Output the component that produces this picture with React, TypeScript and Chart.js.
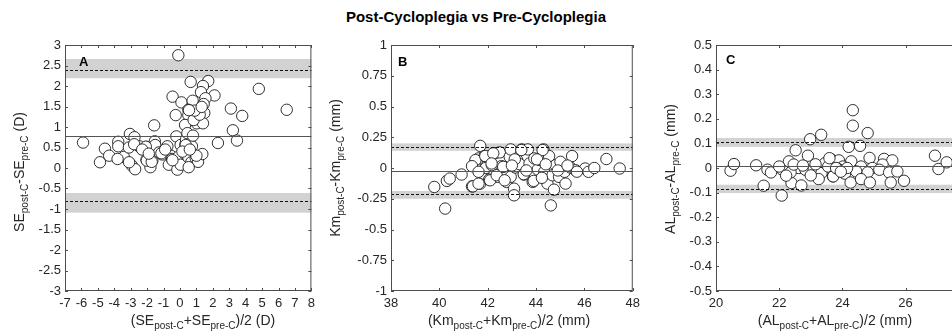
import React, { useEffect, useRef } from "react";
import { Chart, registerables } from "chart.js";
Chart.register(...registerables);

const FONT = "'Liberation Sans', Arial, Helvetica, sans-serif";

// ---------- Panel A: SE ----------
const A_mean = [-0.1, 0.65, 1.72, 1.4, 1.28, 2.1, 1.55, -0.45, 0.09, 0.77, 0.51, 1.44, -0.26, 0.51, 1.48, 1.02, 1.4, 0.31, 0.83, 4.8, 6.5, 3.1, 3.79, 3.22, 3.47, 2.31, -1.57, -5.9, -3.05, -2.77, -3.76, -3.76, -4.57, -4.87, -4.31, -3.42, -3.8, -3.11, -2.49, -2.93, -2.73, -3.1, -2.04, -1.84, -1.53, -1.51, -2.04, -1.8, -1.68, -1.27, -1.07, -0.77, -0.56, -0.68, -0.48, -0.22, -0.16, -0.08, 0.04, 0.04, 0.33, 0.29, 0.37, 0.45, 0.73, 0.79, 0.75, 0.51, 0.69, 0.96, 1.1, 1.36, 0.53, 1.0, -2.79, -2.08, -1.13, -0.46, 0.35, -2.02, -1.72, -2.3, -1.9, -0.9, 0.15, 0.6, 1.2, 0.9, 1.32, 0.55];
const A_diff = [2.75, 2.1, 2.12, 2.0, 1.85, 1.77, 1.7, 1.74, 1.6, 1.64, 1.42, 1.56, 1.29, 1.29, 1.34, 1.09, 1.09, 1.05, 1.17, 1.93, 1.42, 1.45, 1.27, 0.92, 0.67, 0.61, 1.04, 0.62, 0.83, 0.75, 0.64, 0.53, 0.47, 0.14, 0.3, 0.27, 0.22, 0.5, 0.53, 0.06, -0.03, 0.14, 0.51, 0.47, 0.65, 0.56, 0.2, 0.02, 0.19, 0.38, 0.33, 0.53, 0.3, 0.08, 0.22, 0.77, -0.04, 0.28, 0.08, 0.56, 0.57, 0.35, 0.69, 0.85, 0.53, 0.79, 0.32, 0.26, 0.14, 0.24, 0.15, 0.34, 0.02, 0.3, 0.58, 0.52, 0.36, 0.19, 0.56, 0.18, 0.15, 0.45, 0.35, 0.45, 0.4, 0.45, 1.3, 1.4, 1.49, 1.41];
const A_bias = 0.79;
const A_loa = [2.4, -0.81];
const A_bandUpper = [2.19, 2.66];
const A_bandLower = [-1.09, -0.61];
const A_xTicks = [-7, -6, -5, -4, -3, -2, -1, 0, 1, 2, 3, 4, 5, 6, 7, 8];
const A_yTicks = [-3, -2.5, -2, -1.5, -1, -0.5, 0, 0.5, 1, 1.5, 2, 2.5, 3];

// ---------- Panel B: Km ----------
const B_mean = [39.79, 40.24, 40.31, 40.43, 40.92, 41.35, 41.46, 41.62, 41.69, 41.69, 41.79, 41.87, 41.92, 42.06, 42.17, 42.3, 42.41, 42.5, 42.57, 42.64, 42.78, 42.91, 42.95, 42.95, 43.09, 43.09, 43.14, 43.22, 43.32, 43.41, 43.5, 43.66, 43.73, 43.86, 43.93, 44.07, 44.17, 44.31, 44.34, 44.47, 44.54, 44.61, 44.68, 44.74, 44.81, 44.95, 45.01, 45.22, 45.18, 45.42, 45.49, 45.63, 46.03, 46.17, 46.41, 46.91, 47.46, 43.39, 44.27, 43.12, 44.04, 43.49, 43.9, 44.24, 45.69, 41.39, 41.62, 41.49, 41.9, 42.1, 42.23, 41.35, 41.62, 42.16, 42.37, 42.64, 42.7, 43.0, 43.6, 44.4, 44.9, 45.3];
const B_diff = [-0.154, -0.33, -0.105, -0.086, -0.053, -0.15, 0.023, 0.078, 0.18, -0.127, -0.045, 0.097, 0.0, -0.094, 0.023, 0.12, -0.072, 0.127, 0.015, -0.031, -0.113, 0.09, -0.072, 0.151, -0.168, -0.222, 0.004, 0.064, 0.031, 0.151, -0.053, 0.151, 0.037, -0.113, 0.078, -0.012, 0.064, 0.151, -0.031, -0.127, 0.097, -0.304, -0.059, -0.176, 0.023, -0.072, 0.05, -0.127, -0.031, 0.004, 0.097, -0.018, -0.004, -0.031, 0.0, 0.073, -0.004, 0.146, 0.146, 0.07, 0.07, -0.05, -0.105, -0.08, -0.03, -0.149, -0.127, 0.064, 0.097, -0.1, 0.119, 0.015, -0.031, 0.037, -0.059, 0.009, -0.1, 0.02, -0.02, 0.03, -0.02, 0.02];
const B_bias = -0.023;
const B_loa = [0.168, -0.214];
const B_bandUpper = [0.14, 0.2];
const B_bandLower = [-0.25, -0.187];
const B_xTicks = [38, 40, 42, 44, 46, 48];
const B_yTicks = [-1, -0.75, -0.5, -0.25, 0, 0.25, 0.5, 0.75, 1];

// ---------- Panel C: AL ----------
const C_mean = [20.46, 20.57, 21.27, 21.51, 21.63, 21.74, 22.08, 22.1, 22.31, 22.52, 22.39, 22.7, 22.91, 22.98, 23.33, 22.62, 22.83, 23.09, 22.36, 22.22, 22.46, 23.34, 23.45, 22.0, 24.33, 24.33, 24.8, 24.2, 24.56, 26.93, 27.04, 27.3, 23.66, 23.89, 24.28, 24.86, 25.32, 25.58, 25.27, 24.59, 24.95, 24.02, 23.55, 23.7, 24.08, 24.44, 24.8, 25.17, 25.48, 25.74, 24.26, 24.59, 24.87, 25.53, 25.95, 23.59, 23.71, 23.87, 23.15, 23.25, 23.0, 22.75, 23.8, 24.15, 23.95];
const C_diff = [-0.011, 0.016, 0.011, -0.072, -0.007, -0.018, -0.112, -0.007, 0.027, 0.072, -0.061, -0.071, 0.05, 0.117, 0.135, 0.0, -0.007, -0.007, -0.018, -0.031, 0.014, -0.02, 0.02, 0.006, 0.235, 0.172, 0.142, 0.086, 0.09, 0.05, -0.004, 0.023, 0.034, 0.031, 0.027, 0.041, 0.037, 0.031, 0.014, 0.006, 0.0, 0.006, 0.006, -0.034, -0.023, -0.014, -0.018, -0.007, -0.018, -0.014, -0.059, -0.045, -0.059, -0.059, -0.052, 0.04, -0.034, -0.004, 0.015, -0.045, -0.03, 0.01, 0.0, 0.0, -0.015];
const C_bias = 0.01;
const C_loa = [0.105, -0.086];
const C_bandUpper = [0.086, 0.122];
const C_bandLower = [-0.102, -0.068];
const C_xTicks = [20, 22, 24, 26, 28];
const C_yTicks = [-0.5, -0.4, -0.3, -0.2, -0.1, 0, 0.1, 0.2, 0.3, 0.4, 0.5];

const TITLE = "Post-Cycloplegia vs Pre-Cycloplegia";

type Part = { t: string; sub?: boolean };

function drawParts(ctx: CanvasRenderingContext2D, parts: Part[], cx: number, cy: number, rotated: boolean) {
  const mainF = `14px ${FONT}`;
  const subF = `10px ${FONT}`;
  let w = 0;
  parts.forEach((p) => {
    ctx.font = p.sub ? subF : mainF;
    w += ctx.measureText(p.t).width;
  });
  ctx.save();
  if (rotated) {
    ctx.translate(cx + 5, cy);
    ctx.rotate(-Math.PI / 2);
  } else {
    ctx.translate(cx, cy + 5);
  }
  ctx.textBaseline = "alphabetic";
  ctx.textAlign = "left";
  ctx.fillStyle = "#262626";
  let x = -w / 2;
  parts.forEach((p) => {
    ctx.font = p.sub ? subF : mainF;
    ctx.fillText(p.t, x, p.sub ? 4 : 0);
    x += ctx.measureText(p.t).width;
  });
  ctx.restore();
}

type PanelCfg = {
  left: number;
  width: number;
  yAxisW: number;
  mean: number[];
  diff: number[];
  bias: number;
  loa: number[];
  bandU: number[];
  bandL: number[];
  xTicks: number[];
  yTicks: number[];
  letter: string;
  letterPos: [number, number];
  xTitle: Part[];
  yTitle: Part[];
  xTitlePos: [number, number];
  yTitlePos: [number, number];
};

const sub = (a: string, b: string, c: string, d: string, e: string): Part[] => [
  { t: a }, { t: b, sub: true }, { t: c }, { t: d, sub: true }, { t: e },
];

const PANELS: PanelCfg[] = [
  {
    left: 0, width: 320, yAxisW: 65,
    mean: A_mean, diff: A_diff, bias: A_bias, loa: A_loa, bandU: A_bandUpper, bandL: A_bandLower,
    xTicks: A_xTicks, yTicks: A_yTicks, letter: "A", letterPos: [79, 62],
    xTitle: sub("(SE", "post-C", "+SE", "pre-C", ")/2 (D)"),
    yTitle: sub("SE", "post-C", "-SE", "pre-C", " (D)"),
    xTitlePos: [203, 320], yTitlePos: [19, 172],
  },
  {
    left: 320, width: 325, yAxisW: 71,
    mean: B_mean, diff: B_diff, bias: B_bias, loa: B_loa, bandU: B_bandUpper, bandL: B_bandLower,
    xTicks: B_xTicks, yTicks: B_yTicks, letter: "B", letterPos: [78, 62],
    xTitle: sub("(Km", "post-C", "+Km", "pre-C", ")/2 (mm)"),
    yTitle: sub("Km", "post-C", "-Km", "pre-C", " (mm)"),
    xTitlePos: [189, 320], yTitlePos: [15, 168],
  },
  {
    left: 630, width: 351, yAxisW: 86,
    mean: C_mean, diff: C_diff, bias: C_bias, loa: C_loa, bandU: C_bandUpper, bandL: C_bandLower,
    xTicks: C_xTicks, yTicks: C_yTicks, letter: "C", letterPos: [96, 60],
    xTitle: sub("(AL", "post-C", "+AL", "pre-C", ")/2 (mm)"),
    yTitle: sub("AL", "post-C", "-AL", "pre-C", " (mm)"),
    xTitlePos: [205, 320], yTitlePos: [40, 169],
  },
];

function Panel({ cfg }: { cfg: PanelCfg }) {
  const ref = useRef<HTMLCanvasElement>(null);
  useEffect(() => {
    if (!ref.current) return;
    const plugin = {
      id: "ba",
      beforeDatasetsDraw(chart: any) {
        const ctx = chart.ctx as CanvasRenderingContext2D;
        const a = chart.chartArea;
        const y = chart.scales.y;
        ctx.save();
        ctx.fillStyle = "rgb(210,210,210)";
        [cfg.bandU, cfg.bandL].forEach((b) => {
          const y1 = y.getPixelForValue(b[1]);
          const y0 = y.getPixelForValue(b[0]);
          ctx.fillRect(a.left, y1, a.right - a.left, y0 - y1);
        });
        ctx.restore();
      },
      afterDatasetsDraw(chart: any) {
        const ctx = chart.ctx as CanvasRenderingContext2D;
        const a = chart.chartArea;
        const xs = chart.scales.x;
        const ys = chart.scales.y;
        ctx.save();
        ctx.strokeStyle = "#555555";
        ctx.lineWidth = 1;
        const yb = Math.round(ys.getPixelForValue(cfg.bias)) + 0.5;
        ctx.beginPath();
        ctx.moveTo(a.left, yb);
        ctx.lineTo(a.right, yb);
        ctx.stroke();
        ctx.strokeStyle = "#111111";
        ctx.setLineDash([3, 2]);
        cfg.loa.forEach((v) => {
          const yy = Math.round(ys.getPixelForValue(v)) + 0.5;
          ctx.beginPath();
          ctx.moveTo(a.left, yy);
          ctx.lineTo(a.right, yy);
          ctx.stroke();
        });
        ctx.setLineDash([]);
        ctx.strokeStyle = "#4d4d4d";
        ctx.strokeRect(a.left + 0.5, a.top + 0.5, a.right - a.left - 1, a.bottom - a.top - 1);
        ctx.beginPath();
        cfg.xTicks.forEach((v) => {
          const px = Math.round(xs.getPixelForValue(v)) + 0.5;
          ctx.moveTo(px, a.bottom);
          ctx.lineTo(px, a.bottom - 3);
          ctx.moveTo(px, a.top);
          ctx.lineTo(px, a.top + 3);
        });
        cfg.yTicks.forEach((v) => {
          const py = Math.round(ys.getPixelForValue(v)) + 0.5;
          ctx.moveTo(a.left, py);
          ctx.lineTo(a.left + 3, py);
          ctx.moveTo(a.right, py);
          ctx.lineTo(a.right - 3, py);
        });
        ctx.stroke();
        ctx.restore();
      },
      afterDraw(chart: any) {
        const ctx = chart.ctx as CanvasRenderingContext2D;
        drawParts(ctx, cfg.xTitle, cfg.xTitlePos[0], cfg.xTitlePos[1], false);
        drawParts(ctx, cfg.yTitle, cfg.yTitlePos[0], cfg.yTitlePos[1], true);
        ctx.save();
        ctx.font = `bold 13px ${FONT}`;
        ctx.fillStyle = "#000";
        ctx.textBaseline = "middle";
        ctx.textAlign = "left";
        ctx.fillText(cfg.letter, cfg.letterPos[0], cfg.letterPos[1]);
        ctx.restore();
      },
    };
    const tickFont = { family: FONT, size: 13 };
    const chart = new Chart(ref.current, {
      type: "scatter",
      data: {
        datasets: [
          {
            data: cfg.mean.map((m, i) => ({ x: m, y: cfg.diff[i] })),
            pointRadius: 5.7,
            pointBorderWidth: 0.9,
            borderColor: "#1a1a1a",
            backgroundColor: "#ffffff",
            pointHoverRadius: 5.7,
          },
        ],
      },
      options: {
        responsive: false,
        animation: false,
        events: [],
        layout: { padding: { left: 0, right: 8, top: 45, bottom: 0 } },
        plugins: { legend: { display: false }, tooltip: { enabled: false }, title: { display: false } },
        scales: {
          x: {
            type: "linear",
            min: cfg.xTicks[0],
            max: cfg.xTicks[cfg.xTicks.length - 1],
            afterBuildTicks: (s: any) => {
              s.ticks = cfg.xTicks.map((v) => ({ value: v }));
            },
            afterFit: (s: any) => {
              s.height = 45;
            },
            grid: { display: false, drawTicks: false },
            border: { display: false },
            ticks: {
              font: tickFont,
              color: "#262626",
              padding: 5,
              autoSkip: false,
              maxRotation: 0,
              callback: (v: any) => String(v),
            },
          },
          y: {
            type: "linear",
            min: cfg.yTicks[0],
            max: cfg.yTicks[cfg.yTicks.length - 1],
            afterBuildTicks: (s: any) => {
              s.ticks = cfg.yTicks.map((v) => ({ value: v }));
            },
            afterFit: (s: any) => {
              s.width = cfg.yAxisW;
            },
            grid: { display: false, drawTicks: false },
            border: { display: false },
            ticks: {
              font: tickFont,
              color: "#262626",
              padding: 4,
              autoSkip: false,
              callback: (v: any) => String(v),
            },
          },
        },
      },
      plugins: [plugin],
    } as any);
    return () => chart.destroy();
  }, [cfg]);
  return (
    <canvas
      ref={ref}
      width={cfg.width}
      height={336}
      style={{ position: "absolute", left: cfg.left, top: 0, width: cfg.width, height: 336 }}
    />
  );
}

export default function App() {
  return (
    <div
      style={{
        position: "absolute",
        left: 0,
        top: 0,
        width: 952,
        height: 336,
        overflow: "hidden",
        background: "#ffffff",
      }}
    >
      <div
        style={{
          position: "absolute",
          left: 0,
          top: 9,
          width: 952,
          textAlign: "center",
          font: `bold 15px ${FONT}`,
          lineHeight: "16px",
          color: "#000",
        }}
      >
        {TITLE}
      </div>
      {PANELS.map((p) => (
        <Panel key={p.letter} cfg={p} />
      ))}
    </div>
  );
}
